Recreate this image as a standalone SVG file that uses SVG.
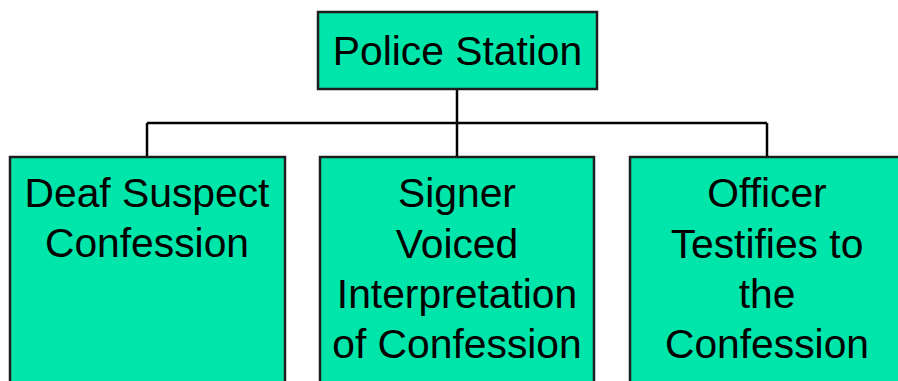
<svg xmlns="http://www.w3.org/2000/svg" width="898" height="381" viewBox="0 0 898 381">
<style>
.box{fill:#00E5A9;stroke:#1e1e1e;stroke-width:2.5}
.t{font-family:"Liberation Sans",Arial,sans-serif;font-size:40.8px;fill:#000;text-anchor:middle}
.c{fill:none;stroke:#000;stroke-width:2.5}
</style>
<rect width="898" height="381" fill="#fff"/>
<g id="connectors">
<path class="c" d="M457 89V123M147 123H767M147 123V157M457 123V157M767 123V157"/>
</g>
<g id="police-station">
<rect class="box" x="318" y="12" width="279" height="77"/>
<text class="t" x="457.5" y="64.5">Police Station</text>
</g>
<g id="deaf-suspect">
<rect class="box" x="10" y="157" width="275" height="240"/>
<text class="t" x="147" y="206.5">Deaf Suspect</text>
<text class="t" x="147" y="257">Confession</text>
</g>
<g id="signer">
<rect class="box" x="320" y="157" width="274" height="240"/>
<text class="t" x="457" y="207">Signer</text>
<text class="t" x="457" y="257.5">Voiced</text>
<text class="t" x="457" y="308">Interpretation</text>
<text class="t" x="457" y="358">of Confession</text>
</g>
<g id="officer">
<rect class="box" x="630" y="157" width="275" height="240"/>
<text class="t" x="767" y="207">Officer</text>
<text class="t" x="767" y="257.5">Testifies to</text>
<text class="t" x="767" y="308">the</text>
<text class="t" x="767" y="358">Confession</text>
</g>
</svg>
